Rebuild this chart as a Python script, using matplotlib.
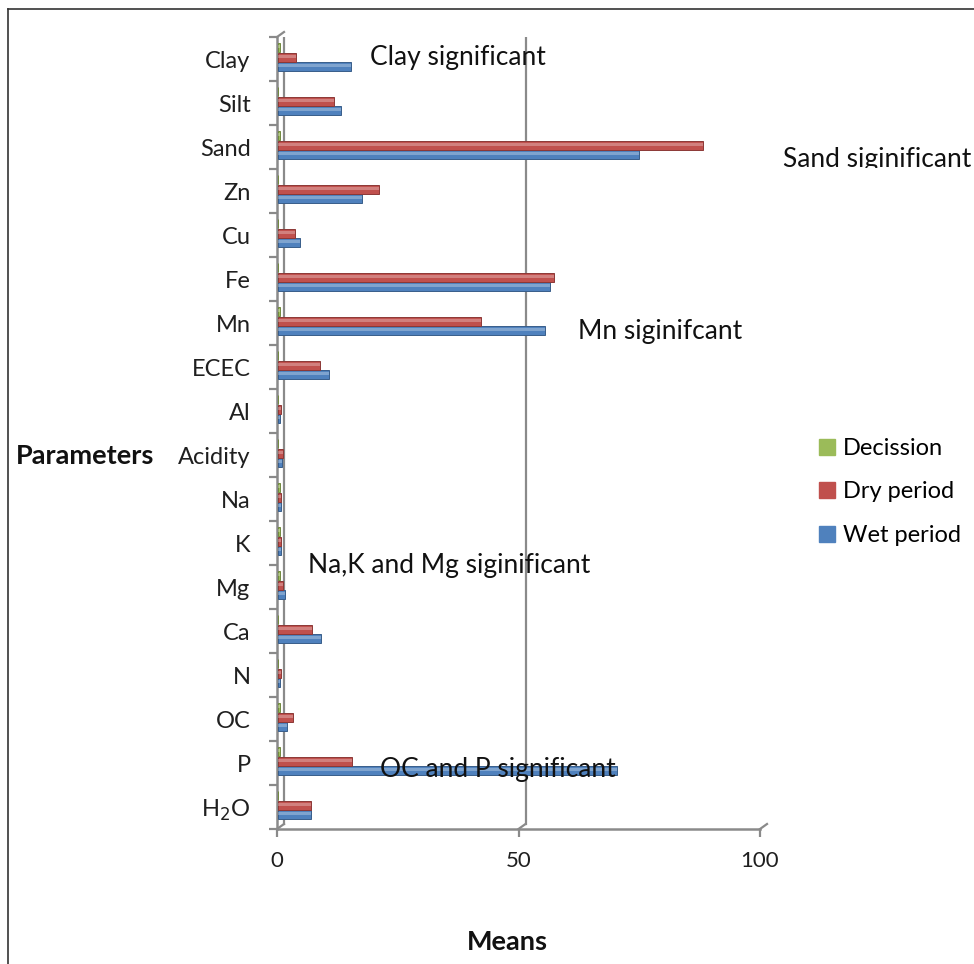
import matplotlib
matplotlib.use('Agg')
import matplotlib.pyplot as plt
import matplotlib.transforms as mtransforms
from matplotlib.patches import Rectangle
from matplotlib.lines import Line2D
import numpy as np

plt.rcParams['font.family'] = ['Lato', 'DejaVu Sans']

# soil parameters, bottom to top
params = ['H$_2$O', 'P', 'OC', 'N', 'Ca', 'Mg', 'K', 'Na', 'Acidity',
          'Al', 'ECEC', 'Mn', 'Fe', 'Cu', 'Zn', 'Sand', 'Silt', 'Clay']
wet = [6.8, 70.0, 1.7, 0.3, 8.9, 1.4, 0.5, 0.6, 0.7,
       0.4, 10.5, 55.2, 56.2, 4.5, 17.4, 74.6, 13.0, 15.1]
dry = [6.8, 15.3, 3.1, 0.5, 7.0, 1.0, 0.5, 0.6, 1.0,
       0.5, 8.7, 41.9, 57.0, 3.5, 20.9, 88.0, 11.6, 3.7]
decision = [0, 0.4, 0.4, 0, 0, 0.4, 0.4, 0.4, 0,
            0, 0, 0.4, 0, 0, 0, 0.4, 0, 0.4]

series = [('Wet period', wet, '#4F81BD', '#385D8A', 0.33),
          ('Dry period', dry, '#C0504D', '#8C3836', 0.54),
          ('Decission', decision, '#9BBB59', '#71893F', 0.76)]

W, H = 974, 964
fig = plt.figure(figsize=(W / 100, H / 100), dpi=100)
ax = fig.add_axes([277 / W, 1 - 829 / H, (760 - 277) / W, (829 - 37) / H])
ax.set_xlim(0, 100)
ax.set_ylim(0, len(params))
for s in ax.spines.values():
    s.set_visible(False)

grey = '#8A8A8A'
# back wall, shifted up and right for the 3-D look
back = ax.transData + mtransforms.ScaledTranslation(0.07, 0.05, fig.dpi_scale_trans)
for xv in [0, 50, 100]:
    ax.plot([xv, xv], [0, len(params)], color=grey, lw=1.6, transform=back, zorder=1)
for xv in [0, 50, 100]:
    # diagonal from front floor edge to the back wall
    p0 = ax.transData.transform((xv, 0))
    p1 = back.transform((xv, 0))
    fig.add_artist(Line2D([p0[0] / W, p1[0] / W], [p0[1] / H, p1[1] / H],
                          color=grey, lw=1.6))
p0 = ax.transData.transform((0, len(params)))
p1 = back.transform((0, len(params)))
fig.add_artist(Line2D([p0[0] / W, p1[0] / W], [p0[1] / H, p1[1] / H], color=grey, lw=1.6))

# front axes
ax.plot([0, 0], [0, len(params)], color=grey, lw=1.8, clip_on=False, zorder=2)
ax.plot([0, 100], [0, 0], color=grey, lw=1.8, clip_on=False, zorder=2)

y = np.arange(len(params))
h = 0.21
for name, vals, col, edge, off in series:
    ax.barh(y + off, vals, height=h, left=0.3, color=col, edgecolor=edge,
            linewidth=0.7, zorder=3)
    # highlight stripe so the bars read as cylinders
    ax.barh(y + off + h * 0.12, vals, height=h * 0.3, left=0.3, color='white',
            alpha=0.28, linewidth=0, zorder=4)

ax.set_yticks(np.arange(len(params) + 1))
ax.set_yticklabels([])
ax.set_yticks(y + 0.5, minor=True)
ax.set_yticklabels(params, minor=True, fontsize=17, color='#1f1f1f')
ax.tick_params(axis='y', which='major', length=6, width=1.6, color=grey, direction='out')
ax.tick_params(axis='y', which='minor', length=0, pad=19)

ax.set_xticks([0, 50, 100])
ax.set_xticklabels(['0', '50', '100'], fontsize=16, color='#1f1f1f')
ax.tick_params(axis='x', length=6, width=1.6, color=grey, pad=10)

fig.text(16 / W, 1 - 456 / H, 'Parameters', fontsize=19.5, fontweight='bold',
         va='center', ha='left', color='#111111')
fig.text(507 / W, 1 - 942 / H, 'Means', fontsize=19.5, fontweight='bold',
         va='center', ha='center', color='#111111')

notes = [('Clay significant', 370, 58),
         ('Mn siginifcant', 578, 331),
         ('Na,K and Mg siginificant', 308, 566),
         ('OC and P significant', 380, 770)]
for txt, px, py in notes:
    fig.text(px / W, 1 - py / H, txt, fontsize=19, va='center', ha='left',
             color='#111111', zorder=10)

# this note sits in a text box that cuts off its lower edge
sand = fig.text(783 / W, 1 - 160 / H, 'Sand siginificant', fontsize=19,
                va='center', ha='left', color='#111111')
clip = Rectangle((770 / W, 1 - 168 / H), 204 / W, 40 / H, transform=fig.transFigure)
sand.set_clip_path(clip)

handles = [Rectangle((0, 0), 1, 1, color=c) for _, _, c, _, _ in series[::-1]]
labels = [n for n, _, _, _, _ in series[::-1]]
fig.legend(handles, labels, loc='center left', bbox_to_anchor=(798 / W, 1 - 492 / H),
           frameon=False, fontsize=17, handlelength=0.65, handleheight=0.65,
           handletextpad=0.35, labelspacing=0.95)

# outer frame (only left and top edges fall inside the image)
fig.add_artist(Line2D([8 / W, 8 / W], [0, 1 - 9 / H], color='#333333', lw=1.2))
fig.add_artist(Line2D([8 / W, 1], [1 - 9 / H, 1 - 9 / H], color='#333333', lw=1.2))

fig.savefig('out.png', dpi=100)
